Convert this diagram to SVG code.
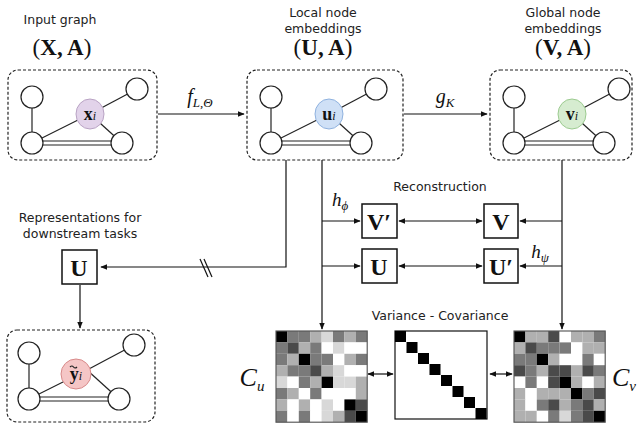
<svg xmlns="http://www.w3.org/2000/svg" width="640" height="424" viewBox="0 0 640 424">
<defs>
<style>
.lbl{font-family:"DejaVu Sans",sans-serif;font-size:12.5px;fill:#222;text-anchor:middle}
.m{font-family:"Liberation Serif",serif;font-weight:bold;text-anchor:middle;fill:#111}
.mi{font-family:"Liberation Serif",serif;font-style:italic;text-anchor:middle;fill:#111}
.box{fill:#fff;stroke:#222;stroke-width:1.2;stroke-dasharray:3,2}
.c{fill:#fff;stroke:#222;stroke-width:1.2}
.e{stroke:#222;stroke-width:1.2;fill:none}
.ln{stroke:#111;stroke-width:1.2;fill:none}
.sq{fill:#fff;stroke:#111;stroke-width:1.5}
.K{fill:#000}.D{fill:#4a4a4a}.M{fill:#7a7a7a}.L{fill:#b0b0b0}.P{fill:#d8d8d8}.W{fill:#fff}
</style>
<marker id="a" viewBox="0 0 10 10" refX="9" refY="5" markerWidth="6" markerHeight="6" orient="auto-start-reverse"><path d="M0,1 L10,5 L0,9 z" fill="#111"/></marker>
<g id="graph">
<line class="e" x1="24" y1="27" x2="24" y2="73"/>
<line class="e" x1="82" y1="44" x2="129" y2="19"/>
<line class="e" x1="82" y1="44" x2="24" y2="73"/>
<line class="e" x1="82" y1="44" x2="114" y2="73"/>
<line class="e" x1="24" y1="71" x2="114" y2="71"/>
<line class="e" x1="24" y1="75" x2="114" y2="75"/>
<circle class="c" cx="24" cy="27" r="11"/>
<circle class="c" cx="129" cy="19" r="11"/>
<circle class="c" cx="24" cy="73" r="11"/>
<circle class="c" cx="114" cy="73" r="11"/>
</g>
</defs>

<g id="labels">
<text class="lbl" x="60" y="24">Input graph</text>
<text class="m" x="62" y="55" font-size="23"><tspan font-weight="normal">(</tspan>X, A<tspan font-weight="normal">)</tspan></text>
<text class="lbl" x="323" y="17">Local node</text>
<text class="lbl" x="323" y="33">embeddings</text>
<text class="m" x="323" y="55" font-size="23"><tspan font-weight="normal">(</tspan>U, A<tspan font-weight="normal">)</tspan></text>
<text class="lbl" x="563" y="17">Global node</text>
<text class="lbl" x="563" y="33">embeddings</text>
<text class="m" x="563" y="55" font-size="23"><tspan font-weight="normal">(</tspan>V, A<tspan font-weight="normal">)</tspan></text>
<text class="lbl" x="440" y="191">Reconstruction</text>
<text class="lbl" x="80" y="222">Representations for</text>
<text class="lbl" x="80" y="238">downstream tasks</text>
<text class="lbl" x="440" y="320">Variance - Covariance</text>
</g>

<g id="n-input">
<rect class="box" x="8" y="70" width="149" height="90" rx="10"/>
<use href="#graph" x="8" y="70"/>
<ellipse cx="90" cy="114" rx="14" ry="15" fill="#e2d3ea" stroke="#b9a3c4"/>
<text class="m" x="90" y="120" font-size="18">x<tspan font-style="italic" font-weight="normal" font-size="12">i</tspan></text>
</g>
<g id="n-local">
<rect class="box" x="247" y="70" width="156" height="90" rx="10"/>
<use href="#graph" x="247" y="70"/>
<ellipse cx="329" cy="114" rx="14" ry="15" fill="#cfe0f6" stroke="#8fb2df"/>
<text class="m" x="329" y="120" font-size="18">u<tspan font-style="italic" font-weight="normal" font-size="12">i</tspan></text>
</g>
<g id="n-global">
<rect class="box" x="490" y="70" width="142" height="90" rx="10"/>
<use href="#graph" x="490" y="70"/>
<ellipse cx="572" cy="114" rx="14" ry="15" fill="#d6ecd0" stroke="#9ccb90"/>
<text class="m" x="572" y="120" font-size="18">v<tspan font-style="italic" font-weight="normal" font-size="12">i</tspan></text>
</g>
<g id="n-out">
<rect class="box" x="7" y="330" width="148" height="92" rx="10"/>
<use href="#graph" x="5" y="326"/>
<circle cx="76" cy="374" r="15" fill="#f5c6c6" stroke="#d88a8a"/>
<text class="m" x="76" y="380" font-size="18">y<tspan font-style="italic" font-weight="normal" font-size="12">i</tspan></text>
<path d="M70,367 q2,-2 3.5,0 t3.5,0" class="e" stroke-width="0.8"/>
</g>

<g id="connectors">
<line class="ln" x1="158" y1="114" x2="244" y2="114" marker-end="url(#a)"/>
<text class="mi" x="200" y="103" font-size="20">f<tspan font-size="13" dy="4">L,Θ</tspan></text>
<line class="ln" x1="404" y1="114" x2="487" y2="114" marker-end="url(#a)"/>
<text class="mi" x="445" y="103" font-size="20">g<tspan font-size="13" dy="4">K</tspan></text>
<polyline class="ln" points="286,160 286,267 101,267" marker-end="url(#a)"/>
<line class="ln" x1="200" y1="259" x2="208" y2="277"/>
<line class="ln" x1="204" y1="259" x2="212" y2="277"/>
<line class="ln" x1="322" y1="160" x2="322" y2="329" marker-end="url(#a)"/>
<line class="ln" x1="322" y1="221" x2="360" y2="221" marker-end="url(#a)"/>
<line class="ln" x1="322" y1="266" x2="360" y2="266" marker-end="url(#a)"/>
<text class="mi" x="340" y="206" font-size="19">h<tspan font-size="13" dy="4">ϕ</tspan></text>
<line class="ln" x1="562" y1="160" x2="562" y2="329" marker-end="url(#a)"/>
<line class="ln" x1="562" y1="221" x2="520" y2="221" marker-end="url(#a)"/>
<line class="ln" x1="562" y1="266" x2="520" y2="266" marker-end="url(#a)"/>
<text class="mi" x="540" y="258" font-size="19">h<tspan font-size="13" dy="4">ψ</tspan></text>
<line class="ln" x1="399" y1="221" x2="482" y2="221" marker-start="url(#a)" marker-end="url(#a)"/>
<line class="ln" x1="399" y1="266" x2="482" y2="266" marker-start="url(#a)" marker-end="url(#a)"/>
<line class="ln" x1="80" y1="285" x2="80" y2="328" marker-end="url(#a)"/>
<line class="ln" x1="368" y1="374" x2="393" y2="374" marker-start="url(#a)" marker-end="url(#a)"/>
<line class="ln" x1="490" y1="374" x2="512" y2="374" marker-start="url(#a)" marker-end="url(#a)"/>
</g>

<g id="n-recon">
<rect class="sq" x="362" y="204" width="35" height="34"/><text class="m" x="379" y="230" font-size="24">V′</text>
<rect class="sq" x="484" y="204" width="34" height="34"/><text class="m" x="501" y="230" font-size="24">V</text>
<rect class="sq" x="362" y="249" width="35" height="34"/><text class="m" x="379" y="275" font-size="24">U</text>
<rect class="sq" x="484" y="249" width="34" height="34"/><text class="m" x="501" y="275" font-size="24">U′</text>
<rect class="sq" x="62" y="250" width="35" height="34"/><text class="m" x="79" y="276" font-size="24">U</text>
</g>

<g id="m-cu" transform="translate(276,331) scale(11.4)">
<rect class="K" x="0" y="0" width="1" height="1"/><rect class="M" x="1" y="0" width="1" height="1"/><rect class="M" x="2" y="0" width="1" height="1"/><rect class="L" x="3" y="0" width="1" height="1"/><rect class="P" x="4" y="0" width="1" height="1"/><rect class="M" x="5" y="0" width="1" height="1"/><rect class="L" x="6" y="0" width="1" height="1"/><rect class="M" x="7" y="0" width="1" height="1"/>
<rect class="M" x="0" y="1" width="1" height="1"/><rect class="D" x="1" y="1" width="1" height="1"/><rect class="L" x="2" y="1" width="1" height="1"/><rect class="M" x="3" y="1" width="1" height="1"/><rect class="W" x="4" y="1" width="1" height="1"/><rect class="P" x="5" y="1" width="1" height="1"/><rect class="W" x="6" y="1" width="1" height="1"/><rect class="W" x="7" y="1" width="1" height="1"/>
<rect class="M" x="0" y="2" width="1" height="1"/><rect class="L" x="1" y="2" width="1" height="1"/><rect class="K" x="2" y="2" width="1" height="1"/><rect class="M" x="3" y="2" width="1" height="1"/><rect class="M" x="4" y="2" width="1" height="1"/><rect class="W" x="5" y="2" width="1" height="1"/><rect class="L" x="6" y="2" width="1" height="1"/><rect class="M" x="7" y="2" width="1" height="1"/>
<rect class="L" x="0" y="3" width="1" height="1"/><rect class="M" x="1" y="3" width="1" height="1"/><rect class="M" x="2" y="3" width="1" height="1"/><rect class="D" x="3" y="3" width="1" height="1"/><rect class="L" x="4" y="3" width="1" height="1"/><rect class="P" x="5" y="3" width="1" height="1"/><rect class="W" x="6" y="3" width="1" height="1"/><rect class="W" x="7" y="3" width="1" height="1"/>
<rect class="P" x="0" y="4" width="1" height="1"/><rect class="W" x="1" y="4" width="1" height="1"/><rect class="M" x="2" y="4" width="1" height="1"/><rect class="L" x="3" y="4" width="1" height="1"/><rect class="K" x="4" y="4" width="1" height="1"/><rect class="P" x="5" y="4" width="1" height="1"/><rect class="P" x="6" y="4" width="1" height="1"/><rect class="L" x="7" y="4" width="1" height="1"/>
<rect class="M" x="0" y="5" width="1" height="1"/><rect class="L" x="1" y="5" width="1" height="1"/><rect class="W" x="2" y="5" width="1" height="1"/><rect class="M" x="3" y="5" width="1" height="1"/><rect class="W" x="4" y="5" width="1" height="1"/><rect class="W" x="5" y="5" width="1" height="1"/><rect class="W" x="6" y="5" width="1" height="1"/><rect class="L" x="7" y="5" width="1" height="1"/>
<rect class="L" x="0" y="6" width="1" height="1"/><rect class="W" x="1" y="6" width="1" height="1"/><rect class="L" x="2" y="6" width="1" height="1"/><rect class="W" x="3" y="6" width="1" height="1"/><rect class="P" x="4" y="6" width="1" height="1"/><rect class="W" x="5" y="6" width="1" height="1"/><rect class="K" x="6" y="6" width="1" height="1"/><rect class="D" x="7" y="6" width="1" height="1"/>
<rect class="M" x="0" y="7" width="1" height="1"/><rect class="W" x="1" y="7" width="1" height="1"/><rect class="M" x="2" y="7" width="1" height="1"/><rect class="W" x="3" y="7" width="1" height="1"/><rect class="P" x="4" y="7" width="1" height="1"/><rect class="L" x="5" y="7" width="1" height="1"/><rect class="D" x="6" y="7" width="1" height="1"/><rect class="K" x="7" y="7" width="1" height="1"/>
<rect x="0" y="0" width="8" height="8" fill="none" stroke="#555" stroke-width="0.1"/>
</g>
<g id="m-id" transform="translate(395,331)">
<rect x="0" y="0" width="92" height="88" fill="#fff" stroke="#111" stroke-width="1.2"/>
<rect class="K" x="0" y="0" width="11" height="11"/><rect class="K" x="11.5" y="11" width="11" height="11"/><rect class="K" x="23" y="22" width="11" height="11"/><rect class="K" x="34.5" y="33" width="11" height="11"/><rect class="K" x="46" y="44" width="11" height="11"/><rect class="K" x="57.5" y="55" width="11" height="11"/><rect class="K" x="69" y="66" width="11" height="11"/><rect class="K" x="80.5" y="77" width="11" height="11"/>
</g>
<g id="m-cv" transform="translate(514,331) scale(11.4)">
<rect class="K" x="0" y="0" width="1" height="1"/><rect class="L" x="1" y="0" width="1" height="1"/><rect class="L" x="2" y="0" width="1" height="1"/><rect class="D" x="3" y="0" width="1" height="1"/><rect class="W" x="4" y="0" width="1" height="1"/><rect class="L" x="5" y="0" width="1" height="1"/><rect class="L" x="6" y="0" width="1" height="1"/><rect class="M" x="7" y="0" width="1" height="1"/>
<rect class="L" x="0" y="1" width="1" height="1"/><rect class="D" x="1" y="1" width="1" height="1"/><rect class="M" x="2" y="1" width="1" height="1"/><rect class="M" x="3" y="1" width="1" height="1"/><rect class="M" x="4" y="1" width="1" height="1"/><rect class="W" x="5" y="1" width="1" height="1"/><rect class="L" x="6" y="1" width="1" height="1"/><rect class="L" x="7" y="1" width="1" height="1"/>
<rect class="M" x="0" y="2" width="1" height="1"/><rect class="M" x="1" y="2" width="1" height="1"/><rect class="K" x="2" y="2" width="1" height="1"/><rect class="L" x="3" y="2" width="1" height="1"/><rect class="W" x="4" y="2" width="1" height="1"/><rect class="W" x="5" y="2" width="1" height="1"/><rect class="M" x="6" y="2" width="1" height="1"/><rect class="W" x="7" y="2" width="1" height="1"/>
<rect class="D" x="0" y="3" width="1" height="1"/><rect class="M" x="1" y="3" width="1" height="1"/><rect class="L" x="2" y="3" width="1" height="1"/><rect class="D" x="3" y="3" width="1" height="1"/><rect class="D" x="4" y="3" width="1" height="1"/><rect class="L" x="5" y="3" width="1" height="1"/><rect class="D" x="6" y="3" width="1" height="1"/><rect class="M" x="7" y="3" width="1" height="1"/>
<rect class="W" x="0" y="4" width="1" height="1"/><rect class="M" x="1" y="4" width="1" height="1"/><rect class="W" x="2" y="4" width="1" height="1"/><rect class="D" x="3" y="4" width="1" height="1"/><rect class="K" x="4" y="4" width="1" height="1"/><rect class="L" x="5" y="4" width="1" height="1"/><rect class="W" x="6" y="4" width="1" height="1"/><rect class="L" x="7" y="4" width="1" height="1"/>
<rect class="L" x="0" y="5" width="1" height="1"/><rect class="W" x="1" y="5" width="1" height="1"/><rect class="L" x="2" y="5" width="1" height="1"/><rect class="L" x="3" y="5" width="1" height="1"/><rect class="L" x="4" y="5" width="1" height="1"/><rect class="K" x="5" y="5" width="1" height="1"/><rect class="M" x="6" y="5" width="1" height="1"/><rect class="D" x="7" y="5" width="1" height="1"/>
<rect class="L" x="0" y="6" width="1" height="1"/><rect class="W" x="1" y="6" width="1" height="1"/><rect class="M" x="2" y="6" width="1" height="1"/><rect class="D" x="3" y="6" width="1" height="1"/><rect class="L" x="4" y="6" width="1" height="1"/><rect class="M" x="5" y="6" width="1" height="1"/><rect class="D" x="6" y="6" width="1" height="1"/><rect class="L" x="7" y="6" width="1" height="1"/>
<rect class="L" x="0" y="7" width="1" height="1"/><rect class="L" x="1" y="7" width="1" height="1"/><rect class="W" x="2" y="7" width="1" height="1"/><rect class="M" x="3" y="7" width="1" height="1"/><rect class="P" x="4" y="7" width="1" height="1"/><rect class="M" x="5" y="7" width="1" height="1"/><rect class="D" x="6" y="7" width="1" height="1"/><rect class="K" x="7" y="7" width="1" height="1"/>
<rect x="0" y="0" width="8" height="8" fill="none" stroke="#555" stroke-width="0.1"/>
</g>
<text class="mi" x="252" y="386" font-size="26" font-family="DejaVu Serif,serif">C<tspan font-size="15" dy="5">u</tspan></text>
<text class="mi" x="624" y="386" font-size="26" font-family="DejaVu Serif,serif">C<tspan font-size="15" dy="5">v</tspan></text>
</svg>
